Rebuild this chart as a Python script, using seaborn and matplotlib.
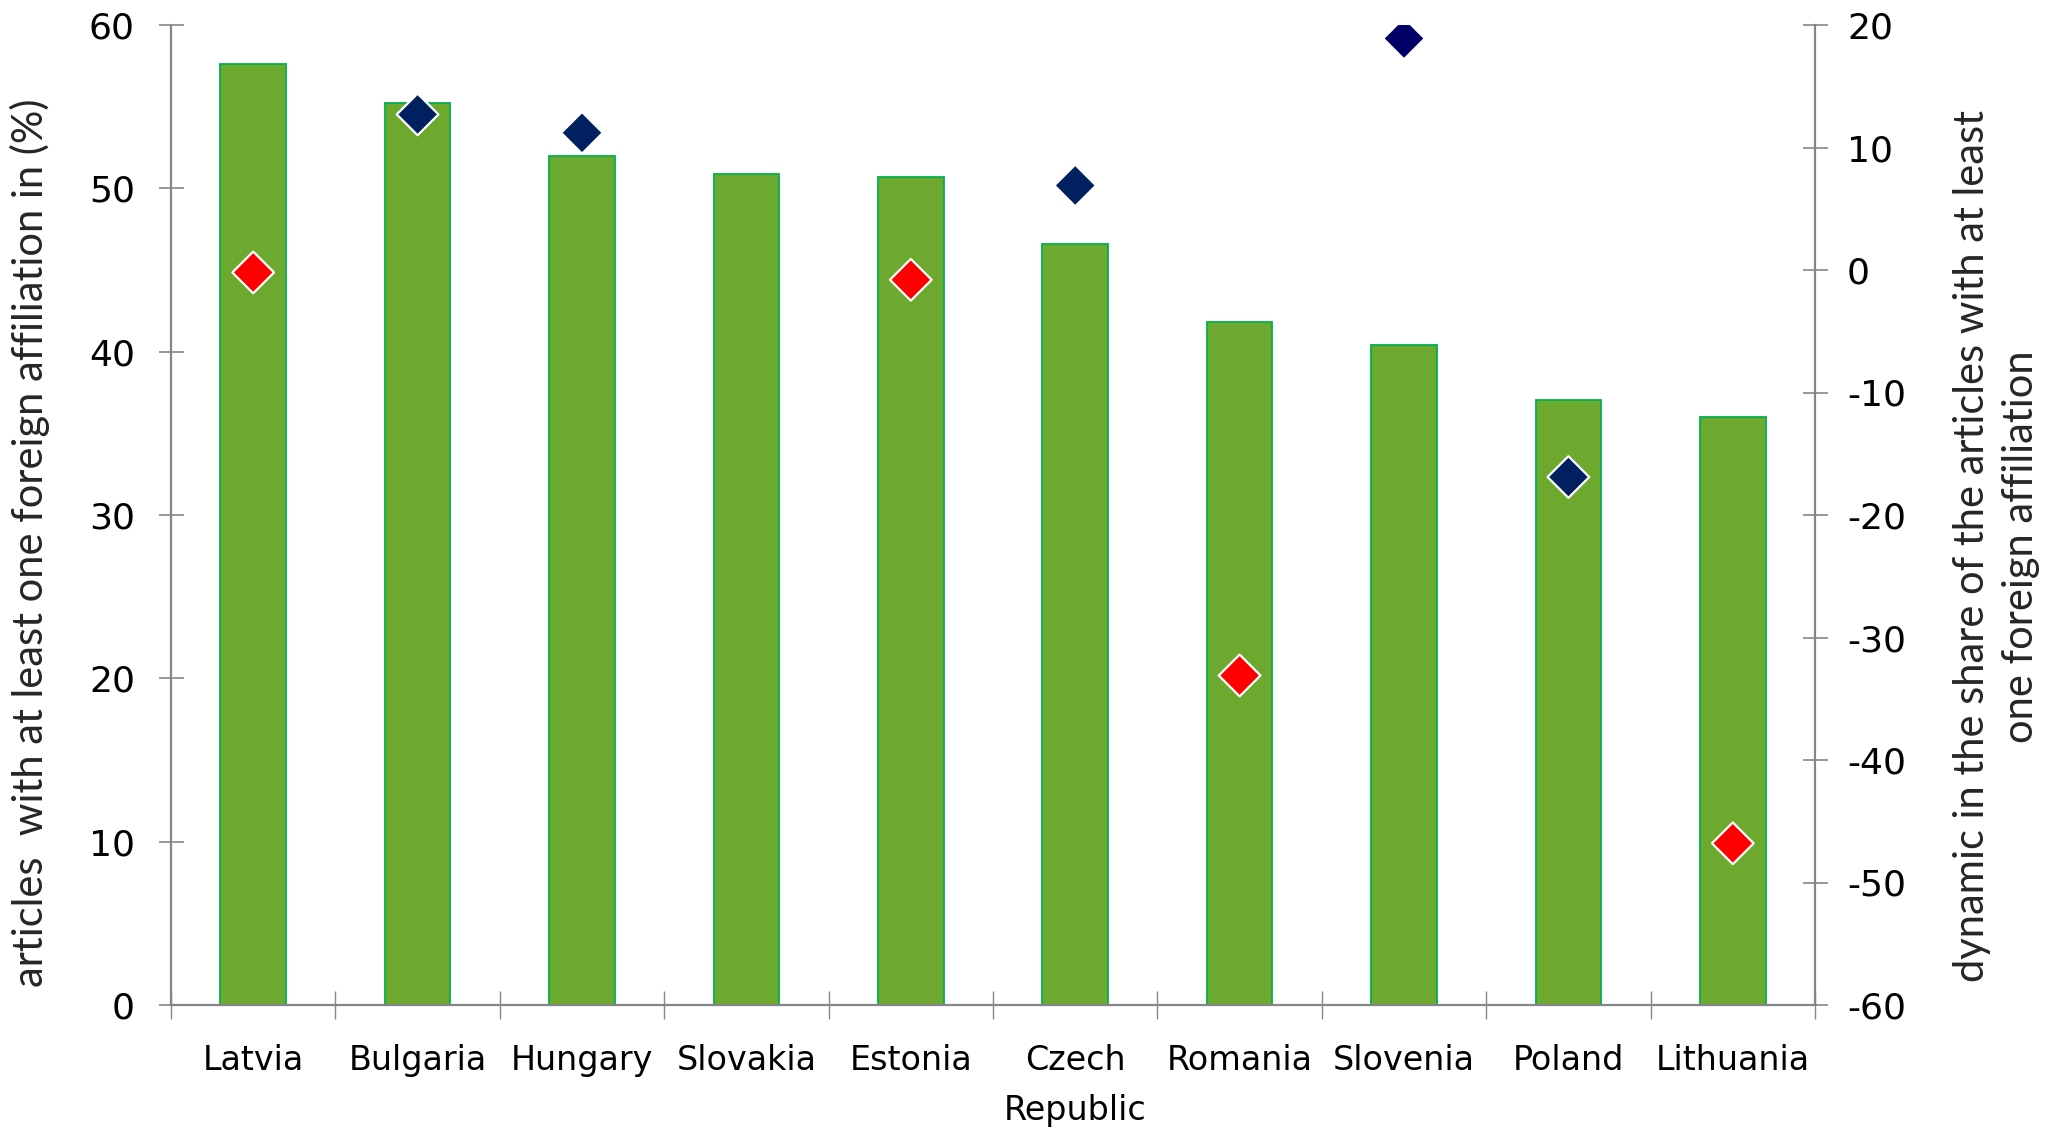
import numpy as np
import pandas as pd
import matplotlib
matplotlib.use("Agg")
import matplotlib.pyplot as plt
import seaborn as sns

countries = ["Latvia", "Bulgaria", "Hungary", "Slovakia", "Estonia",
             "Czech\nRepublic", "Romania", "Slovenia", "Poland", "Lithuania"]
share_pct = [57.6, 55.2, 52.0, 50.9, 50.7, 46.6, 41.8, 40.4, 37.05, 36.0]
dynamic = [-0.2, 12.7, 11.2, np.nan, -0.8, 6.9, -33.1, 18.9, -16.9, -46.8]
series = ["red", "navy", "navy", "none", "red", "navy", "red", "navy2", "navy", "red"]

left_ticks = [0, 10, 20, 30, 40, 50, 60]
right_ticks = [-60, -50, -40, -30, -20, -10, 0, 10, 20]

sns.set_theme(style="white")
plt.rcParams['font.family'] = ['DejaVu Sans']
plt.rcParams['axes.unicode_minus'] = False

bars = pd.DataFrame({"country": countries, "share": share_pct})
pts = pd.DataFrame({"country": countries, "dynamic": dynamic, "series": series}).dropna()

fig = plt.figure(figsize=(20.62, 11.28), dpi=100)
ax = fig.add_axes([171/2062, 1-1005/1128, (1815-171)/2062, (1005-25)/1128])

sns.barplot(data=bars, x="country", y="share", ax=ax, color="#6EA92F",
            saturation=1, width=0.4, edgecolor="#00B050", linewidth=1.3)
ax.set_ylim(0, 60)
ax.set_xlim(-0.5, 9.5)
ax.set_yticks(left_ticks)

ax2 = ax.twinx()
pal = {"red": "#FF0000", "navy": "#002060", "navy2": "#000066"}
sns.scatterplot(data=pts, x="country", y="dynamic", hue="series", palette=pal,
                marker="D", s=450, edgecolor="white", linewidth=1.6,
                ax=ax2, legend=False, zorder=5)
ax2.set_ylim(-60, 20)
ax2.set_yticks(right_ticks)
ax2.set_xlim(-0.5, 9.5)

gray = "#868686"
for a in (ax, ax2):
    for s in a.spines.values():
        s.set_visible(False)
ax.spines['left'].set_visible(True)
ax.spines['bottom'].set_visible(True)
ax2.spines['right'].set_visible(True)
for sp in (ax.spines['left'], ax.spines['bottom'], ax2.spines['right']):
    sp.set_color(gray)
    sp.set_linewidth(1.6)

ax.set_xticks(np.arange(-0.5, 10, 1.0), minor=False)
ax.set_xticklabels([])
ax.set_xticks(np.arange(0, 10), minor=True)
ax.set_xticklabels(countries, minor=True)
ax.tick_params(axis="x", which="major", direction="inout", length=20, width=1.0,
               color=gray, bottom=True)
ax.tick_params(axis="x", which="minor", length=0, pad=28, labelsize=24, labelcolor="black")
ax.tick_params(axis="y", direction="inout", length=18, width=1.2, color=gray,
               left=True, pad=17, labelsize=26, labelcolor="black")
ax2.tick_params(axis="y", direction="inout", length=18, width=1.2, color=gray,
                right=True, pad=14, labelsize=26, labelcolor="black")
ax2.tick_params(axis="x", bottom=False, top=False, labelbottom=False)
for lab in ax.get_xticklabels(minor=True):
    lab.set_linespacing(1.65)
    lab.set_verticalalignment("top")

lab_font = dict(family=['Lato', 'DejaVu Sans'], fontsize=30)
ax.set_xlabel("")
ax.set_ylabel("articles  with at least one foreign affiliation in (%)", **lab_font)
ax.yaxis.set_label_coords(-0.0736, 0.472)
ax2.set_xlabel("")
ax2.set_ylabel("dynamic in the share of the articles with at least\none foreign affiliation",
               linespacing=1.35, rotation=90, **lab_font)
ax2.yaxis.set_label_coords(1.084, 0.468)

fig.savefig("out.png", dpi=100)
